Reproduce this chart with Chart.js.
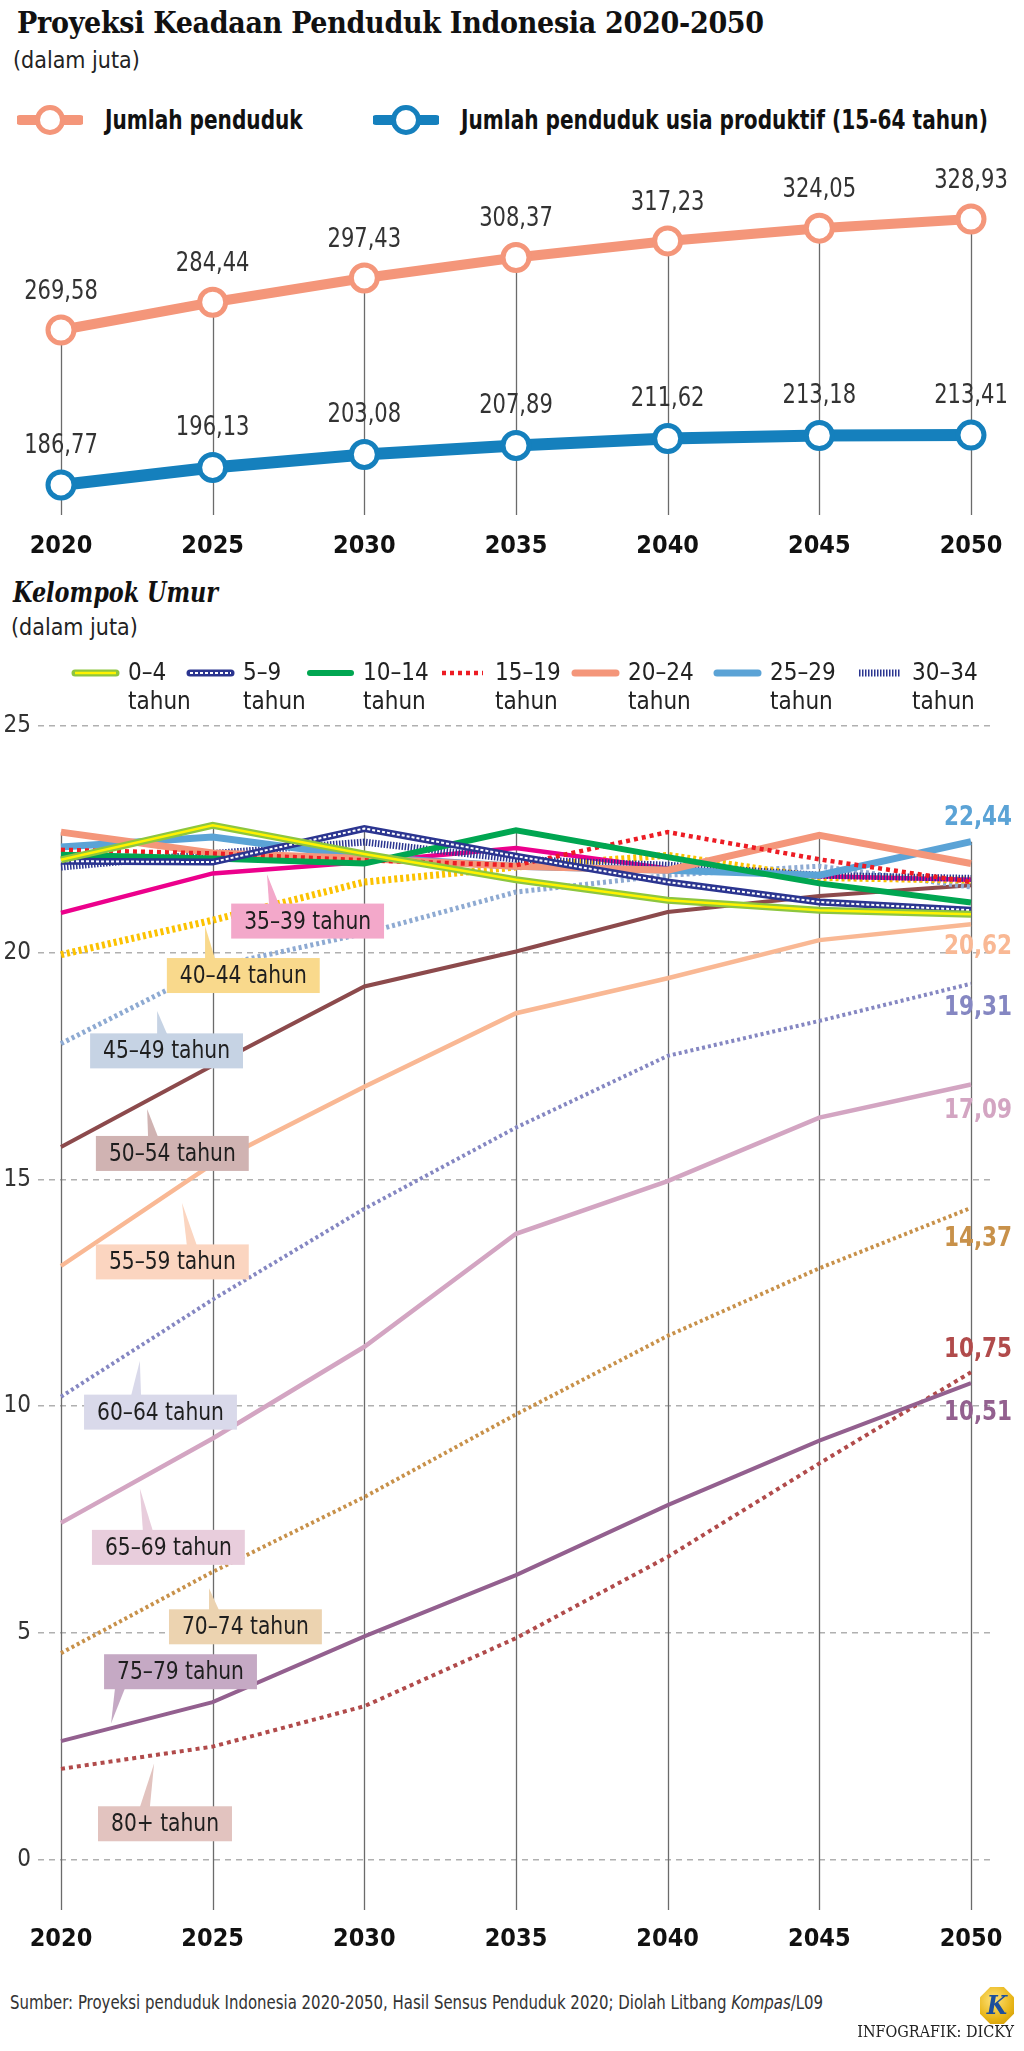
<!DOCTYPE html>
<html>
<head>
<meta charset="utf-8">
<title>Proyeksi Keadaan Penduduk Indonesia 2020-2050</title>
<script src="https://cdn.jsdelivr.net/npm/chart.js@4.4.1/dist/chart.umd.min.js"></script>
<style>
  body { margin: 0; background: #fff; }
  #page { position: relative; width: 1024px; height: 2051px; overflow: hidden; color: #222;
          font-family: "Liberation Sans Narrow", "DejaVu Sans Condensed", sans-serif; }
  .abs { position: absolute; white-space: nowrap; }
  .narrow { display: inline-block; transform-origin: left center; }
  .serif { font-family: "DejaVu Serif Condensed", "DejaVu Serif", serif; }
  #title { left: 17px; top: 5px; font-size: 30px; font-weight: bold; letter-spacing: -0.3px; color: #111; }
  .unit { font-size: 23px; color: #222; }
  .leg-top { font-size: 26px; font-weight: bold; color: #111; line-height: 30px; }
  #subtitle { left: 13px; top: 577px; font-size: 27px; font-weight: bold; font-style: italic; color: #111; }
  .leg-age { font-size: 24px; line-height: 29px; color: #222; }
  canvas { position: absolute; left: 0; }
  #source { left: 10px; top: 1991px; font-size: 19px; color: #333; }
  #credit { right: 10px; top: 2022px; font-size: 16px; color: #222; }
  #logo { left: 980px; top: 1987px; width: 34px; height: 37px;
          clip-path: polygon(30% 0, 70% 0, 100% 28%, 100% 72%, 70% 100%, 30% 100%, 0 72%, 0 28%);
          background: radial-gradient(circle at 40% 35%, #ffe37a, #e8b517 60%, #c99400);
          color: #1d4f9c; font: italic bold 26px "DejaVu Serif Condensed", serif; text-align: center; line-height: 37px; }
</style>
</head>
<body>
<div id="page">
  <div id="title" class="abs serif">Proyeksi Keadaan Penduduk Indonesia 2020-2050</div>
  <div class="abs unit" style="left:13px;top:47px">(dalam juta)</div>
  <div id="legendTop"></div>

  <canvas id="popChart" width="1024" height="430" style="top:140px"></canvas>

  <div id="subtitle" class="abs serif"><span class="narrow" style="transform:scaleX(0.92)">Kelompok Umur</span></div>
  <div class="abs unit" style="left:11px;top:614px">(dalam juta)</div>
  <canvas id="ageChart" width="1024" height="1300" style="top:690px"></canvas>
  <div id="legendAge"></div>

  <div id="source" class="abs"><span class="narrow" style="transform:scaleX(0.875)">Sumber: Proyeksi penduduk Indonesia 2020-2050, Hasil Sensus Penduduk 2020; Diolah Litbang <i>Kompas</i>/L09</span></div>
  <div id="logo" class="abs">K</div>
  <div id="credit" class="abs serif">INFOGRAFIK: DICKY</div>
</div>

<script>
// ---- data ----
const years = [2020, 2025, 2030, 2035, 2040, 2045, 2050];

const totalPop = [269.58, 284.44, 297.43, 308.37, 317.23, 324.05, 328.93];
const productivePop = [186.77, 196.13, 203.08, 207.89, 211.62, 213.18, 213.41];

const ageGroups = ['0–4', '5–9', '10–14', '15–19', '20–24', '25–29', '30–34', '35–39',
                   '40–44', '45–49', '50–54', '55–59', '60–64', '65–69', '70–74', '75–79', '80+'];

const age0to4   = [22.04, 22.80, 22.17, 21.60, 21.15, 20.93, 20.84];
const age5to9   = [22.01, 21.99, 22.73, 22.12, 21.55, 21.11, 20.93];
const age10to14 = [22.15, 22.07, 21.96, 22.69, 22.10, 21.52, 21.10];
const age15to19 = [22.26, 22.18, 22.03, 21.92, 22.65, 22.05, 21.55];
const age20to24 = [22.65, 22.19, 22.07, 21.90, 21.81, 22.58, 21.96];
const age25to29 = [22.32, 22.54, 22.10, 21.90, 21.81, 21.70, 22.44];
const age30to34 = [21.88, 22.18, 22.43, 22.05, 21.92, 21.70, 21.63];
const age35to39 = [20.87, 21.74, 21.99, 22.30, 21.85, 21.68, 21.60];
const age40to44 = [19.95, 20.71, 21.55, 21.88, 22.14, 21.65, 21.59];
const age45to49 = [17.99, 19.68, 20.42, 21.33, 21.70, 21.90, 21.44];
const age50to54 = [15.71, 17.51, 19.25, 20.02, 20.89, 21.24, 21.48];
const age55to59 = [13.09, 15.34, 17.04, 18.66, 19.43, 20.27, 20.62];
const age60to64 = [10.21, 12.35, 14.35, 16.14, 17.72, 18.49, 19.31];
const age65to69 = [7.43, 9.29, 11.31, 13.80, 14.96, 16.36, 17.09];
const age70to74 = [4.56, 6.35, 8.00, 9.82, 11.55, 13.04, 14.37];
const age75to79 = [2.62, 3.48, 4.93, 6.28, 7.82, 9.24, 10.51];
const age80plus = [2.01, 2.50, 3.39, 4.89, 6.68, 8.74, 10.75];

const ageTicks = [0, 5, 10, 15, 20, 25];

const ageSeries = [age0to4, age5to9, age10to14, age15to19, age20to24, age25to29, age30to34, age35to39,
                   age40to44, age45to49, age50to54, age55to59, age60to64, age65to69, age70to74, age75to79, age80plus];

// ---- styles ----
const NARROW = '"Liberation Sans Narrow", "DejaVu Sans Condensed", sans-serif';
const ORANGE = '#f4967a';
const BLUE = '#1580bd';

const ageStyles = [
  { color: '#8dc63f', width: 7, inner: { color: '#fff200', width: 2.5 } },
  { color: '#2b3590', width: 7, inner: { color: '#ffffff', width: 2, dash: [3, 2] } },
  { color: '#00a651', width: 6 },
  { color: '#ed1c24', width: 4.5, dash: [4, 4] },
  { color: '#f4967a', width: 7 },
  { color: '#5ba3d6', width: 7 },
  { color: '#2b3590', width: 7, dash: [1.5, 1.5] },
  { color: '#ec008c', width: 4.5 },
  { color: '#fcc200', width: 7, dash: [3, 3] },
  { color: '#8eaad2', width: 5, dash: [3, 3] },
  { color: '#8c4a4c', width: 4 },
  { color: '#f9b894', width: 4.5 },
  { color: '#8587c2', width: 4, dash: [3, 3] },
  { color: '#d3a5c2', width: 4.5 },
  { color: '#c8914a', width: 4, dash: [3, 3] },
  { color: '#93608f', width: 4 },
  { color: '#b14b4b', width: 4, dash: [4, 4] }
];

// value labels at the right edge: series index and vertical offset in px
const endLabels = [
  { series: 5, dy: -23 },
  { series: 11, dy: 23 },
  { series: 12, dy: 25 },
  { series: 13, dy: 27 },
  { series: 14, dy: 31 },
  { series: 16, dy: -22 },
  { series: 15, dy: 30 }
];

// callout boxes, placed in data units (year, juta)
const callouts = [
  { text: '35–39 tahun', bg: '#f3a8ca', x: 2025.61, y: 20.69, tipX: 2026.79, tipY: 21.72, baseX: 2026.86 },
  { text: '40–44 tahun', bg: '#f9d98c', x: 2023.49, y: 19.49, tipX: 2024.75, tipY: 20.58, baseX: 2024.75 },
  { text: '45–49 tahun', bg: '#c6d3e4', x: 2020.96, y: 17.83, tipX: 2023.17, tipY: 18.71, baseX: 2023.17 },
  { text: '50–54 tahun', bg: '#d0b3b2', x: 2021.15, y: 15.57, tipX: 2022.84, tipY: 16.55, baseX: 2022.87 },
  { text: '55–59 tahun', bg: '#fbd5c0', x: 2021.15, y: 13.18, tipX: 2023.99, tipY: 14.48, baseX: 2024.15 },
  { text: '60–64 tahun', bg: '#d9d9ea', x: 2020.76, y: 9.87, tipX: 2022.60, tipY: 11.00, baseX: 2022.31 },
  { text: '65–69 tahun', bg: '#e8cddc', x: 2021.02, y: 6.89, tipX: 2022.60, tipY: 8.19, baseX: 2022.70 },
  { text: '70–74 tahun', bg: '#ecd3b0', x: 2023.56, y: 5.14, tipX: 2024.88, tipY: 5.99, baseX: 2024.88 },
  { text: '75–79 tahun', bg: '#c5a9c4', x: 2021.42, y: 4.15, tipX: 2021.65, tipY: 3.01, baseX: 2021.78 },
  { text: '80+ tahun', bg: '#e2c3bf', x: 2021.22, y: 0.80, tipX: 2023.07, tipY: 2.13, baseX: 2022.60 }
];

Chart.defaults.font.family = NARROW;
Chart.defaults.color = '#222';

const fmt = v => v.toFixed(2).replace('.', ',');
const toPoints = arr => years.map((yr, i) => ({ x: yr, y: arr[i] }));

// ---- top legend ----
const legendTop = document.getElementById('legendTop');
[
  { label: 'Jumlah penduduk', color: ORANGE, left: 17 },
  { label: 'Jumlah penduduk usia produktif (15-64 tahun)', color: BLUE, left: 373 }
].forEach(item => {
  const el = document.createElement('div');
  el.className = 'abs leg-top';
  el.style.left = item.left + 'px';
  el.style.top = '103px';
  el.style.display = 'flex';
  el.style.alignItems = 'center';
  el.innerHTML = `<svg width="66" height="34" style="margin-right:22px">
      <line x1="3" y1="17" x2="63" y2="17" stroke="${item.color}" stroke-width="10" stroke-linecap="round"/>
      <circle cx="33" cy="17" r="12.5" fill="#fff" stroke="${item.color}" stroke-width="5"/></svg>
    <span class="narrow" style="transform:scaleX(0.86)">${item.label}</span>`;
  legendTop.appendChild(el);
});

// ---- age legend (first seven groups) ----
const legendAge = document.getElementById('legendAge');
const legendLeft = [71, 186, 306, 438, 571, 713, 855];
legendLeft.forEach((left, i) => {
  const st = ageStyles[i];
  const cap = st.dash ? 'butt' : 'round';
  let lines = `<line x1="4" y1="8" x2="45" y2="8" stroke="${st.color}" stroke-width="${st.width}"
      stroke-linecap="${cap}" ${st.dash ? `stroke-dasharray="${st.dash.join(' ')}"` : ''}/>`;
  if (st.inner) {
    lines += `<line x1="4" y1="8" x2="45" y2="8" stroke="${st.inner.color}" stroke-width="${st.inner.width}"
      ${st.inner.dash ? `stroke-dasharray="${st.inner.dash.join(' ')}"` : ''}/>`;
  }
  const sample = document.createElement('div');
  sample.className = 'abs';
  sample.style.left = left + 'px';
  sample.style.top = '665px';
  sample.innerHTML = `<svg width="49" height="16">${lines}</svg>`;
  legendAge.appendChild(sample);
  const txt = document.createElement('div');
  txt.className = 'abs leg-age';
  txt.style.left = (left + 57) + 'px';
  txt.style.top = '658px';
  txt.innerHTML = `${ageGroups[i]}<br>tahun`;
  legendAge.appendChild(txt);
});

// vertical line at each year, from the highest point down to the bottom of the plot
const yearLines = {
  id: 'yearLines',
  beforeDatasetsDraw(chart) {
    const { ctx, chartArea, scales: { x, y } } = chart;
    ctx.save();
    ctx.strokeStyle = '#6b6b6b';
    ctx.lineWidth = 1.3;
    years.forEach((yr, i) => {
      const top = Math.max(...chart.data.datasets.map(ds => ds.data[i].y));
      const px = Math.round(x.getPixelForValue(yr)) + 0.5;
      ctx.beginPath();
      ctx.moveTo(px, y.getPixelForValue(top));
      ctx.lineTo(px, chartArea.bottom);
      ctx.stroke();
    });
    ctx.restore();
  }
};

const valueLabels = {
  id: 'valueLabels',
  afterDatasetsDraw(chart) {
    const { ctx } = chart;
    ctx.save();
    ctx.font = '26px ' + NARROW;
    ctx.fillStyle = '#333';
    ctx.textAlign = 'center';
    ctx.textBaseline = 'middle';
    chart.data.datasets.forEach((ds, di) => {
      chart.getDatasetMeta(di).data.forEach((pt, i) => {
        const lx = pt.x, ly = pt.y - ds.labelOffset;
        // squeeze the digits a little to get closer to the condensed face of the original
        ctx.save();
        ctx.translate(lx, ly);
        ctx.scale(0.9, 1);
        ctx.fillText(fmt(ds.data[i].y), 0, 0);
        ctx.restore();
      });
    });
    ctx.restore();
  }
};

new Chart(document.getElementById('popChart'), {
  type: 'line',
  data: {
    datasets: [
      { label: 'Jumlah penduduk', data: toPoints(totalPop), borderColor: ORANGE, borderWidth: 10,
        pointRadius: 13, pointBorderWidth: 5, pointBackgroundColor: '#fff', pointBorderColor: ORANGE,
        clip: false, labelOffset: 38 },
      { label: 'Jumlah penduduk usia produktif (15-64 tahun)', data: toPoints(productivePop), borderColor: BLUE,
        borderWidth: 12, pointRadius: 13, pointBorderWidth: 5, pointBackgroundColor: '#fff',
        pointBorderColor: BLUE, clip: false, labelOffset: 39 }
    ]
  },
  options: {
    responsive: false,
    animation: false,
    events: [],
    layout: { padding: { top: 60, left: 61, right: 53, bottom: 0 } },
    plugins: { legend: { display: false }, tooltip: { enabled: false } },
    scales: {
      x: {
        type: 'linear', min: 2020, max: 2050,
        afterBuildTicks: s => { s.ticks = years.map(v => ({ value: v })); },
        afterFit: s => { s.height = 55; },
        grid: { display: false }, border: { display: false },
        ticks: { font: { size: 25, weight: 'bold' }, color: '#111', padding: 8, maxRotation: 0, callback: v => String(v) }
      },
      y: { display: false, min: 170.7, max: 339.1 }
    }
  },
  plugins: [yearLines, valueLabels]
});

// ---- age chart ----
const ageDatasets = [];
ageSeries.forEach((arr, i) => {
  const st = ageStyles[i];
  if (st.inner) {
    ageDatasets.push({ label: ageGroups[i] + ' (inner)', data: toPoints(arr), borderColor: st.inner.color,
      borderWidth: st.inner.width, borderDash: st.inner.dash || [], pointRadius: 0, tension: 0 });
  }
  ageDatasets.push({ label: ageGroups[i], data: toPoints(arr), borderColor: st.color, borderWidth: st.width,
    borderDash: st.dash || [], pointRadius: 0, tension: 0, borderJoinStyle: 'miter' });
});

const calloutBoxes = {
  id: 'calloutBoxes',
  afterDatasetsDraw(chart) {
    const { ctx, scales: { x, y } } = chart;
    const squeeze = 0.9;
    ctx.save();
    ctx.font = '25px ' + NARROW;
    callouts.forEach(c => {
      const w = ctx.measureText(c.text).width * squeeze + 26;
      const h = 35;
      const left = x.getPixelForValue(c.x);
      const cy = y.getPixelForValue(c.y);
      const top = cy - h / 2;
      const tx = x.getPixelForValue(c.tipX);
      const ty = y.getPixelForValue(c.tipY);
      const bx = x.getPixelForValue(c.baseX);
      const edge = ty < top ? top + 1 : top + h - 1;
      ctx.fillStyle = c.bg;
      ctx.beginPath();
      ctx.moveTo(tx, ty);
      ctx.lineTo(bx, edge);
      ctx.lineTo(bx + 10, edge);
      ctx.closePath();
      ctx.fill();
      ctx.fillRect(left, top, w, h);
      ctx.fillStyle = '#1e1e1e';
      ctx.textAlign = 'center';
      ctx.textBaseline = 'middle';
      ctx.save();
      ctx.translate(left + w / 2, cy + 1);
      ctx.scale(squeeze, 1);
      ctx.fillText(c.text, 0, 0);
      ctx.restore();
    });
    ctx.restore();
  }
};

const endValueLabels = {
  id: 'endValueLabels',
  afterDatasetsDraw(chart) {
    const { ctx, chartArea, scales: { y } } = chart;
    ctx.save();
    ctx.font = 'bold 26px ' + NARROW;
    ctx.textAlign = 'right';
    ctx.textBaseline = 'middle';
    endLabels.forEach(l => {
      const arr = ageSeries[l.series];
      const v = arr[arr.length - 1];
      ctx.fillStyle = ageStyles[l.series].color;
      ctx.save();
      ctx.translate(chartArea.right + 22, y.getPixelForValue(v) + l.dy);
      ctx.scale(0.92, 1);
      ctx.fillText(fmt(v), 0, 0);
      ctx.restore();
    });
    ctx.restore();
  }
};

new Chart(document.getElementById('ageChart'), {
  type: 'line',
  data: { datasets: ageDatasets },
  options: {
    responsive: false,
    animation: false,
    events: [],
    layout: { padding: { top: 20, left: 0, right: 34, bottom: 0 } },
    plugins: { legend: { display: false }, tooltip: { enabled: false } },
    scales: {
      x: {
        type: 'linear', min: 2019.242, max: 2050.626,
        afterBuildTicks: s => { s.ticks = years.map(v => ({ value: v })); },
        afterFit: s => { s.height = 80; },
        grid: { display: false }, border: { display: false },
        ticks: { font: { size: 25, weight: 'bold' }, color: '#111', padding: 6, maxRotation: 0, callback: v => String(v) }
      },
      y: {
        min: -1.1, max: 25.31,
        afterBuildTicks: s => { s.ticks = ageTicks.map(v => ({ value: v })); },
        afterFit: s => { s.width = 38; },
        grid: { color: '#b0b0b0', lineWidth: 1.5, drawTicks: false },
        border: { display: false, dash: [6, 5] },
        ticks: { font: { size: 24 }, color: '#333', padding: 7, callback: v => String(v) }
      }
    }
  },
  plugins: [yearLines, calloutBoxes, endValueLabels]
});
</script>
</body>
</html>
